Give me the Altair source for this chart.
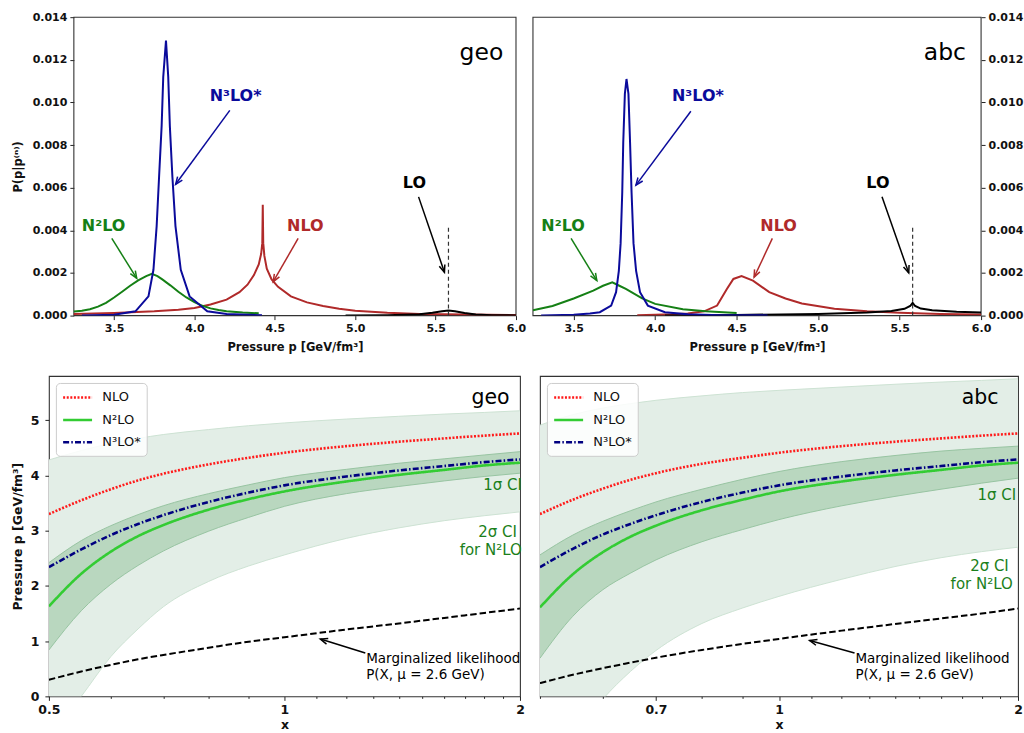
import json
import math

import altair as alt
import pandas as pd

FONT = "DejaVu Sans"

# ======================= top row: P(p | p^(n)) =======================
P_DOMAIN = [3.25, 6.0]
D_DOMAIN = [0.0, 0.014]
P_TICKS = [3.5, 4.0, 4.5, 5.0, 5.5, 6.0]
D_TICKS = [0.0, 0.002, 0.004, 0.006, 0.008, 0.010, 0.012, 0.014]

# --- geo ---
GEO_N3_P = [3.30, 3.50, 3.633, 3.714, 3.745, 3.765, 3.780, 3.796, 3.806, 3.823, 3.837, 3.847,
            3.863, 3.882, 3.915, 3.970, 4.080, 4.200, 4.420]
GEO_N3_D = [0.00001, 0.00004, 0.0002, 0.0009, 0.00215, 0.0042, 0.0065, 0.0089, 0.0112, 0.0129,
            0.0112, 0.0089, 0.0065, 0.0042, 0.00215, 0.0009, 0.0002, 0.00007, 0.00002]
GEO_N2_P = [3.25, 3.30, 3.35, 3.40, 3.45, 3.50, 3.55, 3.60, 3.65, 3.70, 3.735, 3.77, 3.80, 3.85,
            3.90, 3.95, 4.00, 4.05, 4.10, 4.15, 4.20, 4.30, 4.40]
GEO_N2_D = [0.00019, 0.00023, 0.0003, 0.00042, 0.0006, 0.00085, 0.00112, 0.0014, 0.00165, 0.00185,
            0.00196, 0.00185, 0.0017, 0.00142, 0.00112, 0.00085, 0.00063, 0.00046, 0.00034,
            0.00026, 0.0002, 0.00014, 0.00011]
GEO_NLO_P = [3.25, 3.50, 3.75, 3.90, 4.00, 4.10, 4.20, 4.28, 4.33, 4.37, 4.40, 4.415, 4.422, 4.425,
             4.428, 4.435, 4.45, 4.48, 4.52, 4.60, 4.70, 4.80, 4.90, 5.00, 5.20, 5.40, 5.70, 6.00]
GEO_NLO_D = [0.00008, 0.00012, 0.0002, 0.00028, 0.00036, 0.00052, 0.00075, 0.0011, 0.00145, 0.0019,
             0.0024, 0.0029, 0.0034, 0.0052, 0.0034, 0.0028, 0.0022, 0.0017, 0.00135, 0.0009,
             0.00062, 0.00045, 0.00032, 0.00023, 0.00013, 0.00008, 0.00005, 0.00003]
GEO_LO_P = [4.94, 5.20, 5.40, 5.48, 5.54, 5.58, 5.62, 5.68, 5.75, 5.85, 6.00]
GEO_LO_D = [0.00001, 0.00002, 0.00006, 0.00013, 0.0002, 0.00024, 0.0002, 0.00012, 0.00005,
            0.00002, 0.00001]

# --- abc ---
ABC_N3_P = [3.30, 3.50, 3.60, 3.66, 3.73, 3.76, 3.777, 3.788, 3.798, 3.804, 3.814, 3.824, 3.836,
            3.846, 3.855, 3.867, 3.883, 3.907, 3.955, 4.06, 4.20, 4.40, 4.69]
ABC_N3_D = [0.00001, 0.00004, 0.0001, 0.00016, 0.00047, 0.0011, 0.0021, 0.0034, 0.0058, 0.0081,
            0.0104, 0.0111, 0.0104, 0.0081, 0.0058, 0.0034, 0.0021, 0.0011, 0.00047, 0.00016,
            0.00006, 0.00002, 0.00001]
ABC_N2_P = [3.25, 3.37, 3.50, 3.62, 3.68, 3.737, 3.78, 3.82, 3.92, 4.00, 4.17, 4.31, 4.50]
ABC_N2_D = [0.00025, 0.00045, 0.0008, 0.00117, 0.0014, 0.00156, 0.0014, 0.00125, 0.00081, 0.00055,
            0.0003, 0.0002, 0.00012]
ABC_NLO_P = [3.89, 4.00, 4.10, 4.20, 4.30, 4.38, 4.44, 4.48, 4.53, 4.60, 4.70, 4.80, 4.90, 5.10,
             5.30, 5.50, 5.75, 6.00]
ABC_NLO_D = [0.00002, 0.00004, 0.00006, 0.0001, 0.0002, 0.00047, 0.00125, 0.00172, 0.00185,
             0.00164, 0.0011, 0.0008, 0.00057, 0.00032, 0.0002, 0.00013, 0.00008, 0.00005]
ABC_LO_P = [4.06, 4.50, 5.00, 5.30, 5.45, 5.53, 5.565, 5.58, 5.595, 5.63, 5.70, 5.85, 6.00]
ABC_LO_D = [0.00001, 0.00003, 0.00008, 0.00015, 0.00022, 0.00032, 0.00045, 0.0006, 0.00045,
            0.00033, 0.00025, 0.00018, 0.00014]

LO_MARK_P = 5.58
LO_MARK_TOP = 0.0042

LABEL_SERIES = ["N3LO", "N2LO", "NLO", "LO"]
LABEL_TEXT = ["N³LO*", "N²LO", "NLO", "LO"]

GEO_LAB_P = [4.256, 3.435, 4.69, 5.368]
GEO_LAB_D = [0.0103, 0.0042, 0.0042, 0.00624]
GEO_ARR_P1 = [4.22, 3.486, 4.645, 5.394]
GEO_ARR_D1 = [0.00963, 0.00362, 0.00362, 0.00557]
GEO_ARR_P2 = [3.883, 3.641, 4.49, 5.555]
GEO_ARR_D2 = [0.00616, 0.00175, 0.00159, 0.00203]

ABC_LAB_P = [4.262, 3.435, 4.757, 5.367]
ABC_LAB_D = [0.0103, 0.0042, 0.0042, 0.00624]
ABC_ARR_P1 = [4.219, 3.484, 4.719, 5.392]
ABC_ARR_D1 = [0.00959, 0.00362, 0.00362, 0.00557]
ABC_ARR_P2 = [3.882, 3.642, 4.607, 5.556]
ABC_ARR_D2 = [0.00612, 0.00164, 0.0018, 0.002]

TOP_TAG_D = 0.01197
GEO_TOP_TAG_P = 5.785
ABC_TOP_TAG_P = 5.778

TOP_COLOR = {"LO": "#000000", "NLO": "#b02a2a", "N2LO": "#158015", "N3LO": "#0b0b9b"}

# ======================= bottom row: p(x) =======================
X_GRID = [0.5, 0.55, 0.6, 0.65, 0.7, 0.8, 0.9, 1.0, 1.2, 1.4, 1.6, 1.8, 2.0]
X_TICKS = [0.5, 0.6, 0.7, 0.8, 0.9, 1.0, 1.1, 1.2, 1.3, 1.4, 1.5, 1.6, 1.7, 1.8, 1.9, 2.0]
Y_DOMAIN = [0.0, 5.8]
Y_TICKS = [0, 1, 2, 3, 4, 5]

GEO_NLO = [3.30, 3.55, 3.75, 3.91, 4.03, 4.20, 4.32, 4.41, 4.53, 4.61, 4.67, 4.72, 4.76]
GEO_N2 = [1.63, 2.22, 2.62, 2.90, 3.10, 3.38, 3.57, 3.71, 3.89, 4.01, 4.10, 4.18, 4.23]
GEO_N3 = [2.34, 2.66, 2.92, 3.12, 3.28, 3.52, 3.69, 3.82, 3.98, 4.09, 4.17, 4.24, 4.29]
GEO_S1_HI = [2.42, 2.82, 3.09, 3.29, 3.45, 3.67, 3.83, 3.96, 4.11, 4.22, 4.30, 4.37, 4.43]
GEO_S1_LO = [0.84, 1.55, 2.03, 2.37, 2.63, 2.99, 3.24, 3.44, 3.67, 3.80, 3.90, 3.98, 4.04]
GEO_S2_HI = [4.28, 4.45, 4.58, 4.67, 4.74, 4.83, 4.90, 4.95, 5.02, 5.07, 5.11, 5.14, 5.17]
GEO_S2_LO = [-0.75, 0.0, 0.72, 1.22, 1.62, 2.08, 2.36, 2.56, 2.86, 3.05, 3.18, 3.27, 3.34]
GEO_MARG = [0.30, 0.45, 0.57, 0.67, 0.75, 0.88, 0.99, 1.07, 1.21, 1.32, 1.42, 1.51, 1.59]

ABC_NLO = [3.30, 3.56, 3.76, 3.92, 4.04, 4.21, 4.32, 4.41, 4.53, 4.61, 4.67, 4.72, 4.76]
ABC_N2 = [1.61, 2.21, 2.61, 2.89, 3.09, 3.37, 3.56, 3.71, 3.89, 4.01, 4.10, 4.18, 4.23]
ABC_N3 = [2.34, 2.67, 2.93, 3.12, 3.28, 3.52, 3.69, 3.82, 3.98, 4.09, 4.17, 4.24, 4.29]
ABC_S1_HI = [2.56, 2.92, 3.17, 3.36, 3.52, 3.75, 3.93, 4.07, 4.25, 4.36, 4.44, 4.49, 4.53]
ABC_S1_LO = [0.69, 1.45, 1.93, 2.23, 2.47, 2.80, 3.02, 3.20, 3.45, 3.62, 3.75, 3.86, 3.95]
ABC_S2_HI = [4.91, 5.10, 5.22, 5.30, 5.36, 5.44, 5.50, 5.54, 5.60, 5.65, 5.69, 5.72, 5.75]
ABC_S2_LO = [-1.6, -0.75, -0.05, 0.45, 0.83, 1.32, 1.60, 1.81, 2.12, 2.35, 2.51, 2.62, 2.70]
ABC_MARG = [0.24, 0.39, 0.51, 0.61, 0.70, 0.84, 0.95, 1.04, 1.19, 1.31, 1.41, 1.50, 1.59]

SERIES = ["NLO", "N²LO", "N³LO*"]
SERIES_COLORS = ["#ff1a1a", "#33cc33", "#000080"]
SERIES_DASH = [[2, 1.6], [1, 0], [6, 2.2, 1.5, 2.2]]

NOTE_TEXT = ["1σ CI", "2σ CI", "for N²LO"]
GEO_NOTE_X = [2.0, 1.872, 1.835]
GEO_NOTE_Y = [3.83, 2.98, 2.65]
ABC_NOTE_X = [1.978, 1.841, 1.80]
ABC_NOTE_Y = [3.645, 2.36, 2.04]

MARG_TEXT = ["Marginalized likelihood", "P(X, μ = 2.6 GeV)"]
MARG_TEXT_Y = [0.676, 0.392]
GEO_MARG_TEXT_X = 1.272
ABC_MARG_TEXT_X = 1.248
GEO_MARG_ARROW = [1.2686, 0.784, 1.1115, 1.037]
ABC_MARG_ARROW = [1.245, 0.784, 1.093, 1.012]

GEO_BOT_TAG = [1.834, 5.30]
ABC_BOT_TAG = [1.792, 5.30]

BAND2 = "#e3eee7"
BAND1 = "#b9d7bf"
BAND1_EDGE = "#98c4a2"
BAND2_EDGE = "#cde2d3"
NOTE_GREEN = "#1b7f1b"
FRAME = "#333333"

HEAD = "M -0.38 0.95 L 0 0 L 0.38 0.95"
LEG_LINE = "M -1 0 L 3 0"

TOP_H = 299
BOT_H = 321
TL_SHIFT = 25  # the top-left plot starts this much right of the bottom-left plot

AX = dict(domain=False, grid=False, tickColor="#222222", tickWidth=1, labelColor="#111111",
          titleColor="#111111", labelFont=FONT, titleFont=FONT, labelFontWeight="bold",
          titleFontWeight="bold", labelOverlap=False)


def heading(fx, fy, x1, y1, x2, y2):
    dx = fx(x2) - fx(x1)
    dy = fy(y2) - fy(y1)
    return math.degrees(math.atan2(dx, -dy)) % 360


def top_panel(curves, lab_p, lab_d, a_p1, a_d1, a_p2, a_d2, tag, tag_p, width, right):
    shift = 0 if right else TL_SHIFT
    W, H = width + shift, TOP_H
    span = P_DOMAIN[1] - P_DOMAIN[0]
    p_lo = P_DOMAIN[0] - shift / width * span

    def fx(v):
        return (v - p_lo) / (P_DOMAIN[1] - p_lo) * W

    def fy(v):
        return H - (v - D_DOMAIN[0]) / (D_DOMAIN[1] - D_DOMAIN[0]) * H

    rows = []
    for name, ps, ds in curves:
        for p, d in zip(ps, ds):
            rows.append({"p": p, "d": d, "s": name, "c": TOP_COLOR[name]})
    cdf = pd.DataFrame(rows)

    xsc = alt.Scale(domain=[p_lo, P_DOMAIN[1]], nice=False, zero=False)
    ysc = alt.Scale(domain=D_DOMAIN, nice=False, zero=False)
    xax = alt.Axis(values=P_TICKS, format=".1f", title="Pressure p [GeV/fm³]", labelFontSize=11,
                   titleFontSize=11.5, tickSize=4, labelPadding=3, titlePadding=8,
                   labelFlush=False, titleX=shift + width / 2, **AX)
    if right:
        yax = alt.Axis(orient="right", values=D_TICKS, format=".3f", title=None, labelFontSize=11,
                       tickSize=4, labelPadding=3, **AX)
    else:
        yax = alt.Axis(values=D_TICKS, format=".3f", title="P(p|p⁽ⁿ⁾)", labelFontSize=11,
                       titleFontSize=11.5, tickSize=4, labelPadding=3, minExtent=46,
                       maxExtent=46, titlePadding=4.5, offset=-shift, **AX)

    def X(f):
        return alt.X(f, scale=xsc, axis=xax)

    def Y(f):
        return alt.Y(f, scale=ysc, axis=yax)

    box = pd.DataFrame({"p": [P_DOMAIN[0]], "p2": [P_DOMAIN[1]], "d": [D_DOMAIN[0]],
                        "d2": [D_DOMAIN[1]]})
    frame = alt.Chart(box).mark_rect(fillOpacity=0, stroke=FRAME, strokeWidth=1.1).encode(
        x=X("p:Q"), x2="p2:Q", y=Y("d:Q"), y2="d2:Q")

    lines = alt.Chart(cdf).mark_line(strokeWidth=2, clip=True).encode(
        x=X("p:Q"), y=Y("d:Q"), color=alt.Color("c:N", scale=None), detail="s:N")

    lo = pd.DataFrame({"p": [LO_MARK_P], "d": [0.0], "d2": [LO_MARK_TOP]})
    dash = alt.Chart(lo).mark_rule(strokeDash=[4, 3], color="#333333", strokeWidth=1.2).encode(
        x=X("p:Q"), y=Y("d:Q"), y2="d2:Q")

    cols = [TOP_COLOR[s] for s in LABEL_SERIES]
    shaft_df = pd.DataFrame({"p": a_p1, "d": a_d1, "p2": a_p2, "d2": a_d2, "c": cols})
    shafts = alt.Chart(shaft_df).mark_rule(strokeWidth=1.5).encode(
        x=X("p:Q"), y=Y("d:Q"), x2="p2:Q", y2="d2:Q", color=alt.Color("c:N", scale=None))
    head_df = pd.DataFrame({"p": a_p2, "d": a_d2, "c": cols,
                            "ang": [heading(fx, fy, a, b, c, d)
                                    for a, b, c, d in zip(a_p1, a_d1, a_p2, a_d2)]})
    heads = alt.Chart(head_df).mark_point(shape=HEAD, filled=False, size=240, strokeWidth=1.5,
                                          opacity=1).encode(
        x=X("p:Q"), y=Y("d:Q"), angle=alt.Angle("ang:Q", scale=None),
        color=alt.Color("c:N", scale=None))

    ann = pd.DataFrame({"p": lab_p, "d": lab_d, "t": LABEL_TEXT, "c": cols})
    texts = alt.Chart(ann).mark_text(fontSize=16, fontWeight="bold", font=FONT,
                                     baseline="middle").encode(
        x=X("p:Q"), y=Y("d:Q"), text="t:N", color=alt.Color("c:N", scale=None))

    tg = pd.DataFrame({"p": [tag_p], "d": [TOP_TAG_D], "t": [tag]})
    tagm = alt.Chart(tg).mark_text(fontSize=23.5, font=FONT, color="#000000",
                                   baseline="alphabetic").encode(
        x=X("p:Q"), y=Y("d:Q"), text="t:N")

    layer = alt.layer(frame, lines, dash, shafts, heads, texts, tagm).properties(width=W, height=H)
    return layer.properties(view=alt.ViewBackground(stroke="transparent"))


def bottom_panel(vals, note_x, note_y, marg_x, marg_arrow, tag, tag_xy, width, left, label_values):
    nlo, n2, n3, s1hi, s1lo, s2hi, s2lo, marg = vals
    W, H = width, BOT_H

    def fx(v):
        return math.log(v / 0.5) / math.log(4.0) * W

    def fy(v):
        return H - (v - Y_DOMAIN[0]) / (Y_DOMAIN[1] - Y_DOMAIN[0]) * H

    xsc = alt.Scale(type="log", domain=[0.5, 2.0], nice=False)
    ysc = alt.Scale(domain=Y_DOMAIN, nice=False, zero=False)
    test = "indexof(%s, datum.value) >= 0" % json.dumps(label_values)
    xax = alt.Axis(values=X_TICKS, title="x", format="~g", labelExpr=test + " ? datum.label : ''",
                   tickSize={"condition": {"test": test, "value": 4}, "value": 2},
                   labelFontSize=12.5, titleFontSize=12.5, labelPadding=3, titlePadding=3,
                   labelFlush=False, **AX)
    if left:
        yax = alt.Axis(values=Y_TICKS, format="d", title="Pressure p [GeV/fm³]",
                       labelFontSize=12.5, titleFontSize=12.5, tickSize=4, labelPadding=6,
                       minExtent=19.5, maxExtent=19.5, titlePadding=4.5, **AX)
    else:
        yax = alt.Axis(values=Y_TICKS, title=None, labels=False, ticks=False, domain=False,
                       grid=False, minExtent=0, maxExtent=0)

    def X(f):
        return alt.X(f, scale=xsc, axis=xax)

    def Y(f):
        return alt.Y(f, scale=ysc, axis=yax)

    band = pd.DataFrame({"x": X_GRID, "s1hi": s1hi, "s1lo": s1lo, "s2hi": s2hi, "s2lo": s2lo})
    b2 = alt.Chart(band).mark_area(color=BAND2, opacity=1, clip=True,
                                   interpolate="monotone").encode(
        x=X("x:Q"), y=Y("s2lo:Q"), y2="s2hi:Q")
    b2e = alt.Chart(band).transform_fold(["s2lo", "s2hi"], as_=["k", "val"]).mark_line(
        color=BAND2_EDGE, strokeWidth=1, clip=True, interpolate="monotone").encode(
        x=X("x:Q"), y=Y("val:Q"), detail="k:N")
    b1 = alt.Chart(band).mark_area(color=BAND1, opacity=1, clip=True,
                                   interpolate="monotone").encode(
        x=X("x:Q"), y=Y("s1lo:Q"), y2="s1hi:Q")
    b1e = alt.Chart(band).transform_fold(["s1lo", "s1hi"], as_=["k", "val"]).mark_line(
        color=BAND1_EDGE, strokeWidth=1, clip=True, interpolate="monotone").encode(
        x=X("x:Q"), y=Y("val:Q"), detail="k:N")

    mdf = pd.DataFrame({"x": X_GRID, "val": marg})
    mline = alt.Chart(mdf).mark_line(color="#000000", strokeWidth=2, strokeDash=[6.5, 3],
                                     clip=True, interpolate="monotone").encode(
        x=X("x:Q"), y=Y("val:Q"))

    rows = []
    for name, ys in zip(SERIES, [nlo, n2, n3]):
        for a, b in zip(X_GRID, ys):
            rows.append({"x": a, "val": b, "s": name})
    sdf = pd.DataFrame(rows)
    leg = dict(title=None, orient="top-left", offset=7, padding=6,
               fillColor="rgba(255,255,255,0.85)", strokeColor="#cccccc", cornerRadius=4,
               labelFont=FONT, labelFontSize=13, labelColor="#111111", symbolType=LEG_LINE,
               symbolSize=210, symbolStrokeWidth=2.5, rowPadding=6.5, labelOffset=23.5)
    slines = alt.Chart(sdf).mark_line(strokeWidth=2.6, clip=True, interpolate="monotone").encode(
        x=X("x:Q"), y=Y("val:Q"),
        color=alt.Color("s:N", scale=alt.Scale(domain=SERIES, range=SERIES_COLORS),
                        legend=alt.Legend(**leg)),
        strokeDash=alt.StrokeDash("s:N", scale=alt.Scale(domain=SERIES, range=SERIES_DASH),
                                  legend=alt.Legend(**leg)),
    )

    ndf = pd.DataFrame({"x": note_x, "val": note_y, "t": NOTE_TEXT})
    ci1 = alt.Chart(ndf.iloc[[0]]).mark_text(fontSize=15, font=FONT, color=NOTE_GREEN,
                                             align="right", dx=2, baseline="middle").encode(
        x=X("x:Q"), y=Y("val:Q"), text="t:N")
    ci2 = alt.Chart(ndf.iloc[[1, 2]]).mark_text(fontSize=15, font=FONT, color=NOTE_GREEN,
                                                align="center", baseline="middle").encode(
        x=X("x:Q"), y=Y("val:Q"), text="t:N")

    mt = pd.DataFrame({"x": [marg_x, marg_x], "val": MARG_TEXT_Y, "t": MARG_TEXT})
    mtext = alt.Chart(mt).mark_text(fontSize=13.5, font=FONT, color="#000000", align="left",
                                    baseline="middle").encode(
        x=X("x:Q"), y=Y("val:Q"), text="t:N")

    x1, y1, x2, y2 = marg_arrow
    sdf2 = pd.DataFrame({"x": [x1], "val": [y1], "x2": [x2], "val2": [y2]})
    shaft = alt.Chart(sdf2).mark_rule(color="#000000", strokeWidth=1.5).encode(
        x=X("x:Q"), y=Y("val:Q"), x2="x2:Q", y2="val2:Q")
    hdf = pd.DataFrame({"x": [x2], "val": [y2], "ang": [heading(fx, fy, x1, y1, x2, y2)]})
    head = alt.Chart(hdf).mark_point(shape=HEAD, filled=False, size=240, strokeWidth=1.5,
                                     color="#000000", opacity=1).encode(
        x=X("x:Q"), y=Y("val:Q"), angle=alt.Angle("ang:Q", scale=None))

    tg = pd.DataFrame({"x": [tag_xy[0]], "val": [tag_xy[1]], "t": [tag]})
    tagm = alt.Chart(tg).mark_text(fontSize=20.5, font=FONT, color="#000000",
                                   baseline="alphabetic").encode(
        x=X("x:Q"), y=Y("val:Q"), text="t:N")

    layer = alt.layer(b2, b2e, b1, b1e, mline, slines, ci1, ci2, mtext, shaft, head, tagm)
    return layer.properties(width=W, height=H,
                            view=alt.ViewBackground(stroke=FRAME, strokeWidth=1.1))


top_left = top_panel(
    [("NLO", GEO_NLO_P, GEO_NLO_D), ("LO", GEO_LO_P, GEO_LO_D), ("N2LO", GEO_N2_P, GEO_N2_D),
     ("N3LO", GEO_N3_P, GEO_N3_D)],
    GEO_LAB_P, GEO_LAB_D, GEO_ARR_P1, GEO_ARR_D1, GEO_ARR_P2, GEO_ARR_D2,
    "geo", GEO_TOP_TAG_P, 443, False)
top_right = top_panel(
    [("NLO", ABC_NLO_P, ABC_NLO_D), ("LO", ABC_LO_P, ABC_LO_D), ("N2LO", ABC_N2_P, ABC_N2_D),
     ("N3LO", ABC_N3_P, ABC_N3_D)],
    ABC_LAB_P, ABC_LAB_D, ABC_ARR_P1, ABC_ARR_D1, ABC_ARR_P2, ABC_ARR_D2,
    "abc", ABC_TOP_TAG_P, 449, True)

bot_left = bottom_panel(
    [GEO_NLO, GEO_N2, GEO_N3, GEO_S1_HI, GEO_S1_LO, GEO_S2_HI, GEO_S2_LO, GEO_MARG],
    GEO_NOTE_X, GEO_NOTE_Y, GEO_MARG_TEXT_X, GEO_MARG_ARROW, "geo", GEO_BOT_TAG, 472, True,
    [0.5, 1.0, 2.0])
bot_right = bottom_panel(
    [ABC_NLO, ABC_N2, ABC_N3, ABC_S1_HI, ABC_S1_LO, ABC_S2_HI, ABC_S2_LO, ABC_MARG],
    ABC_NOTE_X, ABC_NOTE_Y, ABC_MARG_TEXT_X, ABC_MARG_ARROW, "abc", ABC_BOT_TAG, 479, False,
    [0.7, 1.0, 2.0])

RES = dict(x="independent", y="independent", color="independent", strokeDash="independent")

top_row = alt.hconcat(top_left, top_right, spacing=4).resolve_scale(**RES)
bot_row = alt.hconcat(bot_left, bot_right, spacing=13).resolve_scale(**RES)

chart = alt.vconcat(top_row, bot_row, spacing=21.5).resolve_scale(**RES).properties(
    padding={"left": 11, "top": 9.5, "right": 0, "bottom": 0}
).configure(font=FONT)

chart.save("out.html", embed_options={"renderer": "svg", "actions": False})
